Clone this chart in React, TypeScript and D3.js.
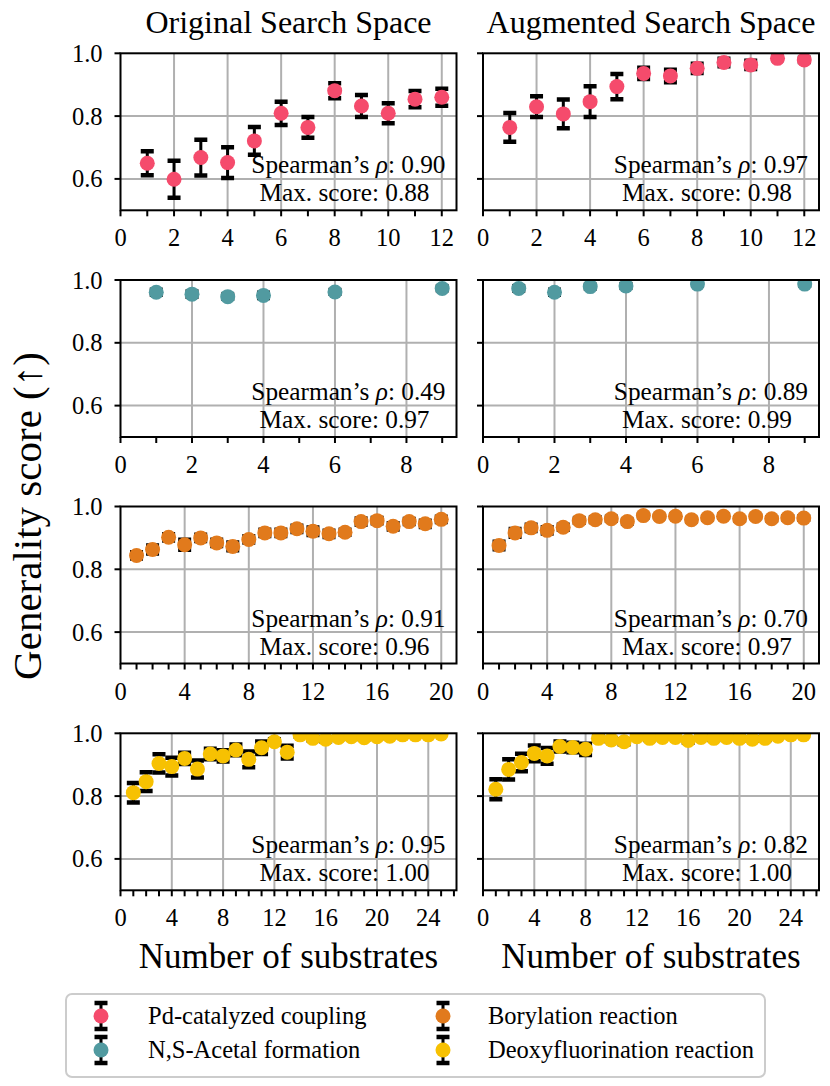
import React, { useRef, useEffect } from "react";
import * as d3 from "d3";

// Substrate counts (x values) per reaction
const pdX = [1, 2, 3, 4, 5, 6, 7, 8, 9, 10, 11, 12];
const nsX = [1, 2, 3, 4, 6, 9];
const borX = [1, 2, 3, 4, 5, 6, 7, 8, 9, 10, 11, 12, 13, 14, 15, 16, 17, 18, 19, 20];
const deoX = [1, 2, 3, 4, 5, 6, 7, 8, 9, 10, 11, 12, 13, 14, 15, 16, 17, 18, 19, 20, 21, 22, 23, 24, 25];

// Pd-catalyzed coupling
const pdOrigMean = [0.650, 0.599, 0.668, 0.652, 0.721, 0.809, 0.764, 0.881, 0.832, 0.809, 0.854, 0.860];
const pdOrigErr = [0.038, 0.059, 0.057, 0.049, 0.044, 0.037, 0.033, 0.024, 0.035, 0.032, 0.026, 0.027];
const pdAugMean = [0.764, 0.830, 0.807, 0.846, 0.894, 0.936, 0.928, 0.952, 0.971, 0.963, 0.984, 0.979];
const pdAugErr = [0.046, 0.033, 0.046, 0.049, 0.040, 0.018, 0.020, 0.015, 0.012, 0.013, 0.005, 0.007];

// N,S-Acetal formation
const nsOrigMean = [0.961, 0.955, 0.947, 0.951, 0.962, 0.973];
const nsOrigErr = [0.008, 0.008, 0.007, 0.008, 0.006, 0.006];
const nsAugMean = [0.973, 0.961, 0.979, 0.981, 0.987, 0.987];
const nsAugErr = [0.007, 0.008, 0.006, 0.006, 0.005, 0.005];

// Borylation reaction
const borOrigMean = [0.844, 0.863, 0.902, 0.878, 0.900, 0.884, 0.873, 0.895, 0.916, 0.916, 0.929, 0.921, 0.913, 0.918, 0.952, 0.955, 0.937, 0.952, 0.945, 0.959];
const borOrigErr = [0.010, 0.013, 0.010, 0.016, 0.010, 0.010, 0.012, 0.010, 0.010, 0.010, 0.010, 0.012, 0.010, 0.008, 0.010, 0.008, 0.010, 0.008, 0.010, 0.008];
const borAugMean = [0.876, 0.916, 0.932, 0.924, 0.934, 0.955, 0.958, 0.961, 0.952, 0.971, 0.968, 0.969, 0.958, 0.964, 0.969, 0.961, 0.968, 0.961, 0.964, 0.963];
const borAugErr = [0.012, 0.012, 0.010, 0.010, 0.008, 0.007, 0.007, 0.006, 0.006, 0.005, 0.005, 0.005, 0.005, 0.005, 0.005, 0.005, 0.005, 0.005, 0.005, 0.005];

// Deoxyfluorination reaction
const deoOrigMean = [0.811, 0.846, 0.904, 0.894, 0.920, 0.886, 0.934, 0.928, 0.947, 0.917, 0.954, 0.973, 0.940, 0.995, 0.984, 0.981, 0.987, 0.989, 0.986, 0.989, 0.991, 0.995, 0.995, 0.995, 0.998];
const deoOrigErr = [0.031, 0.030, 0.029, 0.028, 0.018, 0.027, 0.017, 0.018, 0.017, 0.025, 0.020, 0.008, 0.020, 0.005, 0.006, 0.006, 0.005, 0.005, 0.005, 0.005, 0.004, 0.004, 0.003, 0.003, 0.002];
const deoAugMean = [0.822, 0.885, 0.907, 0.936, 0.928, 0.958, 0.955, 0.949, 0.984, 0.979, 0.973, 0.989, 0.984, 0.987, 0.987, 0.977, 0.987, 0.984, 0.987, 0.984, 0.981, 0.984, 0.991, 0.995, 0.995];
const deoAugErr = [0.032, 0.032, 0.028, 0.025, 0.025, 0.016, 0.015, 0.018, 0.006, 0.006, 0.008, 0.004, 0.005, 0.004, 0.004, 0.006, 0.004, 0.005, 0.004, 0.005, 0.005, 0.005, 0.003, 0.003, 0.003];

// Annotations
const spearmanOrig = ["0.90", "0.49", "0.91", "0.95"];
const spearmanAug = ["0.97", "0.89", "0.70", "0.82"];
const maxOrig = ["0.88", "0.97", "0.96", "1.00"];
const maxAug = ["0.98", "0.99", "0.97", "1.00"];

// Tick labels
const yTicks = [0.6, 0.8, 1.0];
const pdTicks = [0, 2, 4, 6, 8, 10, 12];
const nsTicks = [0, 2, 4, 6, 8];
const borTicks = [0, 4, 8, 12, 16, 20];
const deoTicks = [0, 4, 8, 12, 16, 20, 24];

const titles = ["Original Search Space", "Augmented Search Space"];
const reactions = ["Pd-catalyzed coupling", "N,S-Acetal formation", "Borylation reaction", "Deoxyfluorination reaction"];
const colors = ["#f54b6c", "#519aa0", "#e17a1c", "#f7c102"];

interface Series {
    x: number[];
    mean: number[];
    err: number[];
}

const rows = [
    { x: pdX, orig: [pdOrigMean, pdOrigErr], aug: [pdAugMean, pdAugErr], ticks: pdTicks },
    { x: nsX, orig: [nsOrigMean, nsOrigErr], aug: [nsAugMean, nsAugErr], ticks: nsTicks },
    { x: borX, orig: [borOrigMean, borOrigErr], aug: [borAugMean, borAugErr], ticks: borTicks },
    { x: deoX, orig: [deoOrigMean, deoOrigErr], aug: [deoAugMean, deoAugErr], ticks: deoTicks },
];

const FONT = "'Liberation Serif', 'Times New Roman', serif";

const App: React.FC = () => {
    const ref = useRef<SVGSVGElement | null>(null);
    const width = 830;
    const height = 1086;
    const colLeft = [120.5, 483];
    const colWidth = 336;
    const rowTop = [53.3, 280, 506.5, 733.3];
    const rowHeight = 157;

    useEffect(() => {
        if (!ref.current) return;
        const svg = d3.select(ref.current);
        svg.selectAll("*").remove();
        const defs = svg.append("defs");

        rows.forEach((row, ri) => {
            [row.orig, row.aug].forEach((pair, ci) => {
                const s: Series = { x: row.x, mean: pair[0], err: pair[1] };
                const color = colors[ri];
                const left = colLeft[ci];
                const top = rowTop[ri];
                const xMax = row.x[row.x.length - 1];

                const x = d3
                    .scaleLinear()
                    .domain([0, xMax + 0.05 * (xMax - 1)])
                    .range([0, colWidth]);
                const y = d3.scaleLinear().domain([0.5, 1.0]).range([rowHeight, 0]);

                const g = svg.append("g").attr("transform", `translate(${left},${top})`);

                const clipId = `clip-${ri}-${ci}`;
                defs
                    .append("clipPath")
                    .attr("id", clipId)
                    .append("rect")
                    .attr("width", colWidth)
                    .attr("height", rowHeight);

                // grid
                g.selectAll(".gx")
                    .data(row.ticks.filter((t) => t > 0))
                    .enter()
                    .append("line")
                    .attr("x1", (d) => x(d))
                    .attr("x2", (d) => x(d))
                    .attr("y1", 0)
                    .attr("y2", rowHeight)
                    .attr("stroke", "#b0b0b0")
                    .attr("stroke-width", 2);
                g.selectAll(".gy")
                    .data(yTicks.filter((t) => t < 1))
                    .enter()
                    .append("line")
                    .attr("x1", 0)
                    .attr("x2", colWidth)
                    .attr("y1", (d) => y(d))
                    .attr("y2", (d) => y(d))
                    .attr("stroke", "#b0b0b0")
                    .attr("stroke-width", 2);

                // error bars + points
                const data = s.x.map((xv, i) => ({ x: xv, m: s.mean[i], e: s.err[i] }));
                const plot = g.append("g").attr("clip-path", `url(#${clipId})`);
                const eb = plot.selectAll(".eb").data(data).enter().append("g");
                eb.append("line")
                    .attr("x1", (d) => x(d.x))
                    .attr("x2", (d) => x(d.x))
                    .attr("y1", (d) => y(d.m - d.e))
                    .attr("y2", (d) => y(d.m + d.e))
                    .attr("stroke", "#000")
                    .attr("stroke-width", 3);
                [-1, 1].forEach((sign) => {
                    eb.append("line")
                        .attr("x1", (d) => x(d.x) - 6.5)
                        .attr("x2", (d) => x(d.x) + 6.5)
                        .attr("y1", (d) => y(d.m + sign * d.e))
                        .attr("y2", (d) => y(d.m + sign * d.e))
                        .attr("stroke", "#000")
                        .attr("stroke-width", 4.5);
                });
                plot.selectAll(".pt")
                    .data(data)
                    .enter()
                    .append("circle")
                    .attr("cx", (d) => x(d.x))
                    .attr("cy", (d) => y(d.m))
                    .attr("r", 7.5)
                    .attr("fill", color);

                // ticks: every integer on x
                const minor = d3.range(0, Math.floor(x.domain()[1]) + 1);
                g.selectAll(".tx")
                    .data(minor)
                    .enter()
                    .append("line")
                    .attr("x1", (d) => x(d))
                    .attr("x2", (d) => x(d))
                    .attr("y1", rowHeight)
                    .attr("y2", rowHeight + 6)
                    .attr("stroke", "#000")
                    .attr("stroke-width", 2);
                g.selectAll(".lx")
                    .data(row.ticks)
                    .enter()
                    .append("text")
                    .attr("x", (d) => x(d))
                    .attr("y", rowHeight + 36)
                    .attr("text-anchor", "middle")
                    .attr("font-family", FONT)
                    .attr("font-size", 24.5)
                    .text((d) => String(d));

                g.selectAll(".ty")
                    .data(yTicks)
                    .enter()
                    .append("line")
                    .attr("x1", -6)
                    .attr("x2", 0)
                    .attr("y1", (d) => y(d))
                    .attr("y2", (d) => y(d))
                    .attr("stroke", "#000")
                    .attr("stroke-width", 2);
                if (ci === 0) {
                    g.selectAll(".ly")
                        .data(yTicks)
                        .enter()
                        .append("text")
                        .attr("x", -18)
                        .attr("y", (d) => y(d) + 8.5)
                        .attr("text-anchor", "end")
                        .attr("font-family", FONT)
                        .attr("font-size", 24.5)
                        .text((d) => d.toFixed(1));
                }

                // spines
                g.append("rect")
                    .attr("width", colWidth)
                    .attr("height", rowHeight)
                    .attr("fill", "none")
                    .attr("stroke", "#000")
                    .attr("stroke-width", 2);

                // annotation
                const rho = ci === 0 ? spearmanOrig[ri] : spearmanAug[ri];
                const mx = ci === 0 ? maxOrig[ri] : maxAug[ri];
                const t1 = g
                    .append("text")
                    .attr("x", colWidth - 11)
                    .attr("y", rowHeight - 37)
                    .attr("text-anchor", "end")
                    .attr("font-family", FONT)
                    .attr("font-size", 25.3);
                t1.append("tspan").text("Spearman\u2019s ");
                t1.append("tspan").attr("font-style", "italic").text("\u03c1");
                t1.append("tspan").text(`: ${rho}`);
                g.append("text")
                    .attr("x", colWidth - 112)
                    .attr("y", rowHeight - 9)
                    .attr("text-anchor", "middle")
                    .attr("font-family", FONT)
                    .attr("font-size", 25.3)
                    .text(`Max. score: ${mx}`);

                if (ri === 0) {
                    svg.append("text")
                        .attr("x", left + colWidth / 2)
                        .attr("y", 33)
                        .attr("text-anchor", "middle")
                        .attr("font-family", FONT)
                        .attr("font-size", 32)
                        .text(titles[ci]);
                }
                if (ri === 3) {
                    svg.append("text")
                        .attr("x", left + colWidth / 2)
                        .attr("y", 968)
                        .attr("text-anchor", "middle")
                        .attr("font-family", FONT)
                        .attr("font-size", 35)
                        .text("Number of substrates");
                }
            });
        });

        // y label
        svg.append("text")
            .attr("transform", "translate(41,516) rotate(-90)")
            .attr("text-anchor", "middle")
            .attr("font-family", FONT)
            .attr("font-size", 41)
            .text("Generality score (\u2191)");

        // legend
        const lg = svg.append("g");
        lg.append("rect")
            .attr("x", 66)
            .attr("y", 994)
            .attr("width", 699)
            .attr("height", 83)
            .attr("rx", 6)
            .attr("fill", "#fff")
            .attr("stroke", "#cccccc")
            .attr("stroke-width", 2);
        const markerX = [101, 443];
        const textX = [148, 488];
        const rowY = [1016, 1050];
        reactions.forEach((name, i) => {
            const col = Math.floor(i / 2);
            const r = i % 2;
            const mx = markerX[col];
            const my = rowY[r];
            lg.append("line")
                .attr("x1", mx).attr("x2", mx)
                .attr("y1", my - 13).attr("y2", my + 13)
                .attr("stroke", "#000").attr("stroke-width", 3);
            [-13, 13].forEach((dy) => {
                lg.append("line")
                    .attr("x1", mx - 6.5).attr("x2", mx + 6.5)
                    .attr("y1", my + dy).attr("y2", my + dy)
                    .attr("stroke", "#000").attr("stroke-width", 4.5);
            });
            lg.append("circle").attr("cx", mx).attr("cy", my).attr("r", 7.5).attr("fill", colors[i]);
            lg.append("text")
                .attr("x", textX[col])
                .attr("y", my + 8)
                .attr("font-family", FONT)
                .attr("font-size", 24.5)
                .text(name);
        });
    }, []);

    return (
        <svg
            ref={ref}
            width={width}
            height={height}
            style={{ position: "absolute", left: 0, top: 0, display: "block", background: "#fff" }}
        />
    );
};

export default App;
